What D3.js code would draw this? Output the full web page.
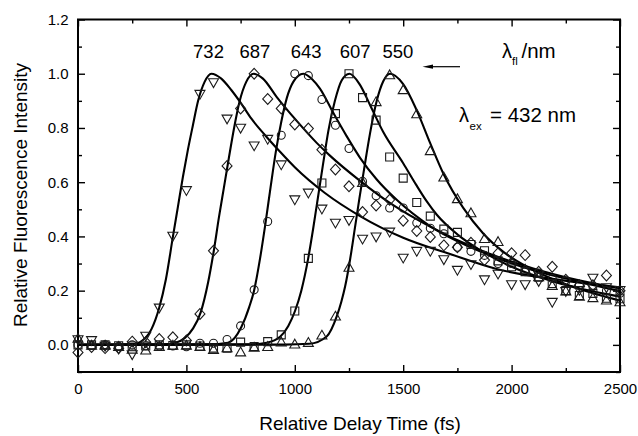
<!DOCTYPE html>
<html><head><meta charset="utf-8">
<script src="https://cdn.jsdelivr.net/npm/d3@7"></script>
<style>body{margin:0;background:#fff} svg{display:block}</style>
</head><body>
<svg id="c" width="638" height="436"></svg>
<script>
// ---------- data ----------
const times = [0,62.5,125,187.5,250,312.5,375,437.5,500,562.5,625,687.5,750,812.5,875,937.5,1000,1062.5,1125,1187.5,1250,1312.5,1375,1437.5,1500,1562.5,1625,1687.5,1750,1812.5,1875,1937.5,2000,2062.5,2125,2187.5,2250,2312.5,2375,2437.5,2500];

const wavelengths = ["732","687","643","607","550"];

const s732 = [0.018,0.015,-0.006,-0.016,-0.037,0.031,0.135,0.40,0.568,0.923,0.966,0.832,0.798,0.733,0.757,0.663,0.534,0.559,0.50,0.448,0.458,0.389,0.397,0.415,0.319,0.344,0.344,0.313,0.274,0.295,0.239,0.26,0.221,0.221,0.233,0.156,0.196,0.2,0.245,0.21,0.2];
const s687 = [-0.028,-0.008,-0.012,-0.012,0.012,0.01,0.022,0.028,0.016,0.114,0.347,0.66,0.872,1.0,0.907,0.872,0.813,0.798,0.72,0.647,0.585,0.49,0.514,0.535,0.458,0.42,0.398,0.367,0.36,0.377,0.313,0.338,0.338,0.331,0.27,0.288,0.24,0.22,0.22,0.256,0.2];
const s643 = [0.0,-0.002,0.0,-0.005,0.0,-0.003,-0.004,-0.004,-0.007,0.006,0.006,0.02,0.07,0.203,0.455,0.773,1.0,0.993,0.905,0.81,0.724,0.603,0.55,0.505,0.505,0.45,0.43,0.41,0.36,0.345,0.33,0.30,0.30,0.27,0.265,0.245,0.235,0.22,0.215,0.2,0.19];
const s607 = [0.0,0.0,0.0,-0.003,-0.004,-0.004,0.0,-0.002,0.0,-0.004,-0.012,-0.012,0.01,-0.006,0.012,0.037,0.125,0.319,0.597,0.853,1.0,0.912,0.829,0.693,0.615,0.525,0.475,0.427,0.415,0.37,0.347,0.31,0.288,0.27,0.25,0.226,0.2,0.182,0.19,0.172,0.17];
const s550 = [0.025,0.0,0.0,-0.005,-0.015,-0.018,-0.005,0.0,0.0,-0.005,-0.016,-0.01,-0.025,-0.008,-0.005,0.012,0.004,0.01,0.037,0.107,0.287,0.6,0.898,0.997,0.942,0.853,0.717,0.62,0.54,0.488,0.393,0.382,0.31,0.28,0.252,0.22,0.2,0.18,0.175,0.166,0.16];

// fitted curves: [time, intensity]
const fit732 = [[0,0],[250,0.002],[300,0.018],[340,0.06],[374,0.135],[405,0.24],[438,0.40],[461,0.51],[484,0.62],[507,0.72],[530,0.81],[554,0.90],[584,0.97],[615,1.0],[661,0.982],[707,0.94],[753,0.89],[799,0.835],[861,0.775],[932,0.712],[1000,0.655],[1139,0.56],[1301,0.475],[1500,0.395],[1716,0.335],[1931,0.28],[2238,0.238],[2500,0.212]];
const fit687 = [[0,0],[400,0.002],[450,0.008],[492,0.025],[530,0.06],[566,0.12],[600,0.23],[627,0.35],[650,0.47],[673,0.58],[696,0.69],[720,0.80],[746,0.90],[776,0.97],[810,1.0],[853,0.982],[916,0.915],[1009,0.826],[1101,0.745],[1162,0.698],[1301,0.605],[1454,0.515],[1624,0.436],[1854,0.35],[2100,0.282],[2300,0.24],[2500,0.208]];
const fit643 = [[0,0],[600,0.002],[692,0.008],[753,0.065],[790,0.14],[812,0.2],[840,0.32],[865,0.45],[888,0.58],[912,0.71],[937,0.82],[963,0.91],[993,0.97],[1039,1.0],[1080,0.98],[1116,0.945],[1178,0.855],[1239,0.77],[1301,0.69],[1378,0.61],[1470,0.535],[1624,0.438],[1854,0.345],[2100,0.275],[2300,0.235],[2500,0.198]];
const fit607 = [[0,0],[800,0.002],[870,0.008],[932,0.03],[970,0.07],[1001,0.125],[1030,0.2],[1062,0.32],[1085,0.43],[1108,0.55],[1131,0.67],[1155,0.79],[1185,0.9],[1216,0.975],[1252,1.0],[1300,0.96],[1347,0.885],[1408,0.785],[1500,0.67],[1560,0.59],[1608,0.53],[1655,0.48],[1754,0.405],[1854,0.35],[2000,0.288],[2200,0.232],[2500,0.178]];
const fit550 = [[0,0],[950,0.001],[1067,0.004],[1147,0.031],[1193,0.104],[1215,0.16],[1232,0.215],[1255,0.315],[1278,0.435],[1298,0.54],[1320,0.65],[1347,0.78],[1378,0.9],[1408,0.972],[1439,1.0],[1500,0.962],[1562,0.866],[1624,0.745],[1685,0.632],[1777,0.505],[1870,0.41],[1962,0.343],[2085,0.282],[2238,0.227],[2500,0.163]];

const xTicks = [0,500,1000,1500,2000,2500];
const xMinor = [250,750,1250,1750,2250];
const yTicks = [0.0,0.2,0.4,0.6,0.8,1.0,1.2];
const yMinor = [-0.1,0.1,0.3,0.5,0.7,0.9,1.1];

// ---------- drawing ----------
const svg = d3.select("#c");
const L=78, R=620, T=19.5, B=372;
const x = d3.scaleLinear().domain([0,2500]).range([L,R]);
const y = d3.scaleLinear().domain([-0.1,1.2]).range([B,T]);
const font = "'Liberation Sans', Arial, Helvetica, sans-serif";

svg.append("rect").attr("width",638).attr("height",436).attr("fill","#fff");

svg.append("clipPath").attr("id","clip").append("rect")
  .attr("x",L).attr("y",T).attr("width",R-L).attr("height",B-T);

function styleAxis(g){
  g.select(".domain").remove();
  g.selectAll(".tick line").attr("stroke","#000").attr("stroke-width",1.4);
  g.selectAll("text").attr("font-family",font).attr("font-size",15).attr("fill","#000");
}
svg.append("g").attr("transform",`translate(0,${B})`)
  .call(d3.axisBottom(x).tickValues(xTicks).tickSize(-7).tickPadding(11).tickFormat(d3.format("d"))).call(styleAxis);
svg.append("g").attr("transform",`translate(0,${B})`)
  .call(d3.axisBottom(x).tickValues(xMinor).tickSize(-4).tickFormat("")).call(styleAxis);
svg.append("g").attr("transform",`translate(0,${T})`)
  .call(d3.axisTop(x).tickValues(xTicks).tickSize(-7).tickFormat("")).call(styleAxis);
svg.append("g").attr("transform",`translate(0,${T})`)
  .call(d3.axisTop(x).tickValues(xMinor).tickSize(-4).tickFormat("")).call(styleAxis);
svg.append("g").attr("transform",`translate(${L},0)`)
  .call(d3.axisLeft(y).tickValues(yTicks).tickSize(-7).tickPadding(9.5).tickFormat(d3.format(".1f"))).call(styleAxis);
svg.append("g").attr("transform",`translate(${L},0)`)
  .call(d3.axisLeft(y).tickValues(yMinor).tickSize(-4).tickFormat("")).call(styleAxis);
svg.append("g").attr("transform",`translate(${R},0)`)
  .call(d3.axisRight(y).tickValues(yTicks).tickSize(-7).tickFormat("")).call(styleAxis);
svg.append("g").attr("transform",`translate(${R},0)`)
  .call(d3.axisRight(y).tickValues(yMinor).tickSize(-4).tickFormat("")).call(styleAxis);

svg.append("rect").attr("x",L).attr("y",T).attr("width",R-L).attr("height",B-T)
  .attr("fill","none").attr("stroke","#000").attr("stroke-width",2);

const line = d3.line().x(d=>x(d[0])).y(d=>y(d[1])).curve(d3.curveMonotoneX);
const fits = [fit732,fit687,fit643,fit607,fit550];
svg.append("g").attr("clip-path","url(#clip)").selectAll("path").data(fits).join("path")
  .attr("d",line).attr("fill","none").attr("stroke","#000").attr("stroke-width",2.1)
  .attr("stroke-linejoin","round");

const shapes = {
  tdown: "M-5,-4.2L5,-4.2L0,4.6Z",
  diamond: "M0,-5.4L5,0L0,5.4L-5,0Z",
  circle: "M4,0A4,4 0 1 1 -4,0A4,4 0 1 1 4,0Z",
  square: "M-4,-4H4V4H-4Z",
  tup: "M0,-4.6L5,4.2L-5,4.2Z"
};
const series = [
  {vals:s732, shape:"tdown"},
  {vals:s687, shape:"diamond"},
  {vals:s643, shape:"circle"},
  {vals:s607, shape:"square"},
  {vals:s550, shape:"tup"}
];
const mg = svg.append("g");
series.forEach(s=>{
  mg.append("g").selectAll("path").data(times.map((t,i)=>[t,s.vals[i]])).join("path")
    .attr("transform",d=>`translate(${x(d[0])},${y(d[1])})`)
    .attr("d",shapes[s.shape]).attr("fill","none").attr("stroke","#1a1a1a").attr("stroke-width",1.1);
});

const labelT = [602,816,1052,1278,1476];
svg.append("g").selectAll("text").data(wavelengths).join("text")
  .attr("x",(d,i)=>x(labelT[i])).attr("y",57.5).attr("text-anchor","middle")
  .attr("font-family",font).attr("font-size",18.5).text(d=>d);

// lambda_fl /nm
svg.append("text").attr("font-family",font).attr("font-size",20).attr("x",502).attr("y",57.5).text("λ");
svg.append("text").attr("font-family",font).attr("font-size",11.5).attr("x",512).attr("y",65).text("fl");
svg.append("text").attr("font-family",font).attr("font-size",20.5).attr("x",521.5).attr("y",57.5).text("/nm");

// arrow
svg.append("line").attr("x1",460).attr("y1",66.7).attr("x2",430).attr("y2",66.7)
  .attr("stroke","#000").attr("stroke-width",1.2);
svg.append("path").attr("d","M422.5,66.7L433,64.6L433,68.8Z").attr("fill","#000");

// lambda_ex = 432 nm
svg.append("text").attr("font-family",font).attr("font-size",20).attr("x",459).attr("y",121.7).text("λ");
svg.append("text").attr("font-family",font).attr("font-size",11.5).attr("x",469.5).attr("y",130).text("ex");
svg.append("text").attr("font-family",font).attr("font-size",20.5).attr("x",490).attr("y",121.7).text("= 432 nm");

svg.append("text").attr("x",360).attr("y",430).attr("text-anchor","middle")
  .attr("font-family",font).attr("font-size",19).text("Relative Delay Time (fs)");
svg.append("text").attr("transform","translate(26.5,195) rotate(-90)").attr("text-anchor","middle")
  .attr("font-family",font).attr("font-size",19).text("Relative Fluorescence Intensity");
</script>
</body></html>
